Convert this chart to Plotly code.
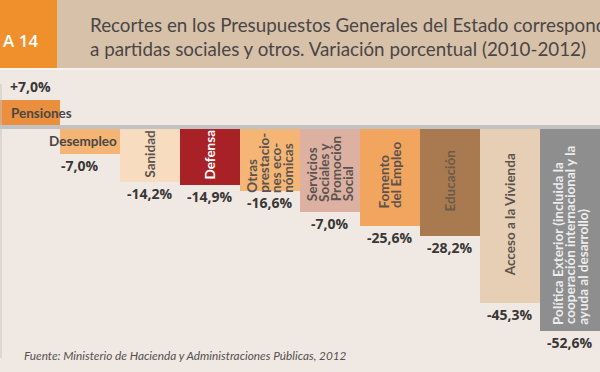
import plotly.graph_objects as go

# ---- data ----
categories = ["Pensiones", "Desempleo", "Sanidad", "Defensa",
              "Otras prestaciones económicas",
              "Servicios Sociales y Promoción Social",
              "Fomento del Empleo", "Educación", "Acceso a la Vivienda",
              "Política Exterior (incluida la cooperación internacional y la ayuda al desarrollo)"]
bar_labels = [["Pensiones"], ["Desempleo"], ["Sanidad"], ["Defensa"],
              ["Otras", "prestacio-", "nes eco-", "nómicas"],
              ["Servicios", "Sociales y", "Promoción", "Social"],
              ["Fomento", "del Empleo"], ["Educación"], ["Acceso a la Vivienda"],
              ["Política Exterior (incluida la", "cooperación internacional y la",
               "ayuda al desarrollo)"]]
values = [7.0, -7.0, -14.2, -14.9, -16.6, -22.0, -25.6, -28.2, -45.3, -52.6]
value_text = ["+7,0%", "-7,0%", "-14,2%", "-14,9%", "-16,6%", "-7,0%",
              "-25,6%", "-28,2%", "-45,3%", "-52,6%"]

# ---- styles ----
colors = ["#e98f3d", "#f4b474", "#f8dcc0", "#a82126", "#f5b675",
          "#dcb1a1", "#f2a55e", "#a97a4f", "#e6cfb4", "#8e8e8f"]
label_colors = ["#4a4646", "#4a4646", "#5a5350", "#ffffff", "#5a5350",
                "#5a5350", "#5a5350", "#6b5a48", "#5a5350", "#ececec"]
horizontal = [True, True] + [False] * 8

title = "Recortes en los Presupuestos Generales del Estado correspondientes<br>a partidas sociales y otros. Variación porcentual (2010-2012)"
badge = "A 14"
source = "Fuente: Ministerio de Hacienda y Administraciones Públicas, 2012"

W, H = 600, 372
zero_px, scale = 127, 3.88
y_top = zero_px / scale
y_bot = -(H - zero_px) / scale

LAB_SIZE = 13.5
LINE_H = 12.2


def text_len(s):
    return sum(0.22 * LAB_SIZE if c == " " else 0.5 * LAB_SIZE for c in s)


x = list(range(len(categories)))
fig = go.Figure(go.Bar(x=x, y=values, marker=dict(color=colors, line=dict(width=0)),
                       width=1, hovertext=categories, hoverinfo="text"))

ann = []
lab_font = dict(family="Lato", size=LAB_SIZE, weight=700)
for i, (v, lines, vt) in enumerate(zip(values, bar_labels, value_text)):
    f = dict(lab_font, color=label_colors[i])
    if horizontal[i]:
        if v > 0:
            ann.append(dict(x=i - 0.5, y=v / 2, text=lines[0], showarrow=False, xanchor="left",
                            yanchor="middle", xshift=9, font=f))
        else:
            ann.append(dict(x=i + 0.5, y=v / 2, text=lines[0], showarrow=False, xanchor="right",
                            yanchor="middle", xshift=-1, font=f))
    else:
        n = len(lines)
        longest = max(text_len(s) for s in lines)
        for k, s in enumerate(lines):
            ann.append(dict(x=i, y=v / 2, text=s, showarrow=False, textangle=-90,
                            xanchor="center", yanchor="bottom",
                            xshift=(k - (n - 1) / 2) * LINE_H,
                            yshift=-longest / 2 - 2, font=f))
    ann.append(dict(x=i, y=v, text=vt, showarrow=False,
                    yanchor="bottom" if v > 0 else "top",
                    yshift=2 if v > 0 else 0,
                    xshift=-10 if i == 1 else 0,
                    font=dict(family="Open Sans", size=14, weight=700, color="#3a3636")))

# header
ann.append(dict(xref="paper", yref="paper", x=88 / W, y=1 - 36 / H, text=title,
                showarrow=False, xanchor="left", yanchor="middle", align="left",
                font=dict(family="Lato", size=18.8, color="#4a4646")))
ann.append(dict(xref="paper", yref="paper", x=1 / W, y=1 - 40 / H, text=badge,
                showarrow=False, xanchor="left", yanchor="middle",
                font=dict(family="Open Sans", size=17, weight=600, color="#ffffff")))
ann.append(dict(xref="paper", yref="paper", x=22 / W, y=1 - 355 / H, text=source,
                showarrow=False, xanchor="left", yanchor="middle",
                font=dict(family="Lato", size=11.8, style="italic", color="#555050")))

shapes = [
    dict(type="rect", xref="paper", yref="paper", x0=0, x1=1, y0=1 - 68 / H, y1=1,
         fillcolor="#d8c1a9", line=dict(width=0), layer="below"),
    dict(type="rect", xref="paper", yref="paper", x0=0, x1=57 / W, y0=1 - 68 / H, y1=1,
         fillcolor="#f0902c", line=dict(width=0), layer="below"),
    dict(type="rect", xref="paper", yref="paper", x0=0, x1=1, y0=1 - 70 / H, y1=1 - 68 / H,
         fillcolor="#f6f1ec", line=dict(width=0), layer="below"),
    dict(type="line", xref="paper", yref="y", x0=0, x1=1, y0=0, y1=0,
         line=dict(color="#c2c2c3", width=4), layer="above"),
    dict(type="line", xref="paper", yref="paper", x0=1 / W, x1=1 / W,
         y0=1 - 358 / H, y1=1 - 84 / H, line=dict(color="#c9c5c2", width=1)),
]

fig.update_layout(
    width=W, height=H, autosize=False,
    margin=dict(l=0, r=0, t=0, b=0, pad=0),
    paper_bgcolor="#f0e9e3", plot_bgcolor="rgba(0,0,0,0)",
    bargap=0, showlegend=False,
    xaxis=dict(range=[-0.5, len(categories) - 0.5], visible=False, fixedrange=True),
    yaxis=dict(range=[y_bot, y_top], visible=False, fixedrange=True),
    annotations=ann, shapes=shapes,
)
fig.write_html("out.html", config={"displayModeBar": False},
               post_script="document.body.style.margin='0';document.body.style.overflow='hidden';")
